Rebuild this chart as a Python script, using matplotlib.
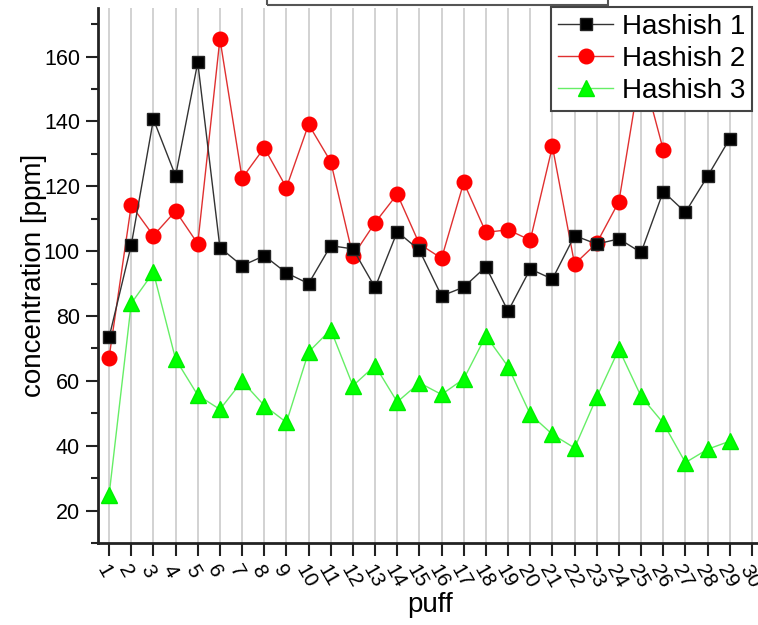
import matplotlib
matplotlib.use('Agg')
import matplotlib.pyplot as plt
from matplotlib.patches import Rectangle
from matplotlib.ticker import MultipleLocator

plt.rcParams['font.family'] = ['Liberation Sans', 'DejaVu Sans']

# data
puff = list(range(1, 30))
hashish1 = [73.4, 101.9, 140.7, 123.2, 158.2, 101.1, 95.5, 98.6, 93.3, 90.0,
            101.7, 100.7, 88.8, 106.0, 100.3, 86.2, 88.9, 95.2, 81.5, 94.5,
            91.4, 104.8, 102.2, 103.8, 99.6, 118.4, 112.0, 123.1, 134.7]
puff2 = list(range(1, 27))
hashish2 = [67.2, 114.2, 104.8, 112.4, 102.3, 165.5, 122.5, 131.9, 119.6, 139.1,
            127.6, 98.5, 108.8, 117.6, 102.2, 97.8, 121.2, 105.8, 106.6, 103.4,
            132.3, 96.0, 102.5, 115.3, 157.0, 131.3]
hashish3 = [24.8, 83.9, 93.5, 66.7, 55.6, 51.2, 59.9, 52.4, 47.2, 68.9,
            75.8, 58.5, 64.7, 53.5, 59.4, 55.8, 60.6, 73.9, 64.4, 49.7,
            43.5, 39.3, 55.0, 69.8, 55.2, 47.0, 34.8, 38.9, 41.4]
xticks = list(range(1, 31))

W, H = 758, 625
fig = plt.figure(figsize=(W / 100, H / 100), dpi=100)
ax = fig.add_axes([98 / W, (H - 543) / H, 665 / W, 535 / H])

ax.plot(puff, hashish1, color='#333333', lw=1.0, marker='s', ms=9,
        mfc='black', mec='#222222', label='Hashish 1', zorder=4)
ax.plot(puff2, hashish2, color='#e03030', lw=1.0, marker='o', ms=10.5,
        mfc='#ff0000', mec='#ff0000', label='Hashish 2', zorder=3)
ax.plot(puff, hashish3, color='#66ee66', lw=1.0, marker='^', ms=11,
        mfc='#00ff00', mec='#00ee00', label='Hashish 3', zorder=2)

ax.set_xlim(0.5, 30.5)
ax.set_ylim(10, 175)
ax.set_xticks(xticks)
ax.set_xticklabels([str(t) for t in xticks], rotation=-60, ha='left',
                   va='top', rotation_mode='anchor', fontsize=15)
ax.yaxis.set_major_locator(MultipleLocator(20))
ax.yaxis.set_minor_locator(MultipleLocator(10))
ax.set_yticks([20, 40, 60, 80, 100, 120, 140, 160])
ax.tick_params(axis='y', labelsize=15.5, length=9, width=1.5, pad=4,
               color='#222222')
ax.tick_params(axis='y', which='minor', length=5, width=1.5, color='#222222')
ax.tick_params(axis='x', length=9, width=1.5, pad=4, color='#222222')

ax.grid(axis='x', color='#cfcfcf', lw=1.3)
ax.set_axisbelow(True)
for s in ['top', 'right']:
    ax.spines[s].set_visible(False)
for s in ['left', 'bottom']:
    ax.spines[s].set_linewidth(2)
    ax.spines[s].set_color('#222222')

ax.set_xlabel('puff', fontsize=20, labelpad=1)
ax.set_ylabel('concentration [ppm]', fontsize=20, labelpad=-2)

leg = ax.legend(loc='upper right', bbox_to_anchor=(752 / W, 1 - 7 / H),
                bbox_transform=fig.transFigure, borderaxespad=0,
                fontsize=20, handlelength=2.0, handletextpad=0.3,
                labelspacing=0.22, borderpad=0.25, fancybox=False,
                framealpha=1, edgecolor='#444444')
leg.get_frame().set_linewidth(1.5)
leg.set_zorder(10)

# clipped title box at the very top
fig.patches.append(Rectangle((267 / W, 1 - 5 / H), 341 / W, 20 / H,
                             transform=fig.transFigure, fill=False,
                             edgecolor='#555555', lw=1.5))

fig.savefig('out.png', dpi=100)
